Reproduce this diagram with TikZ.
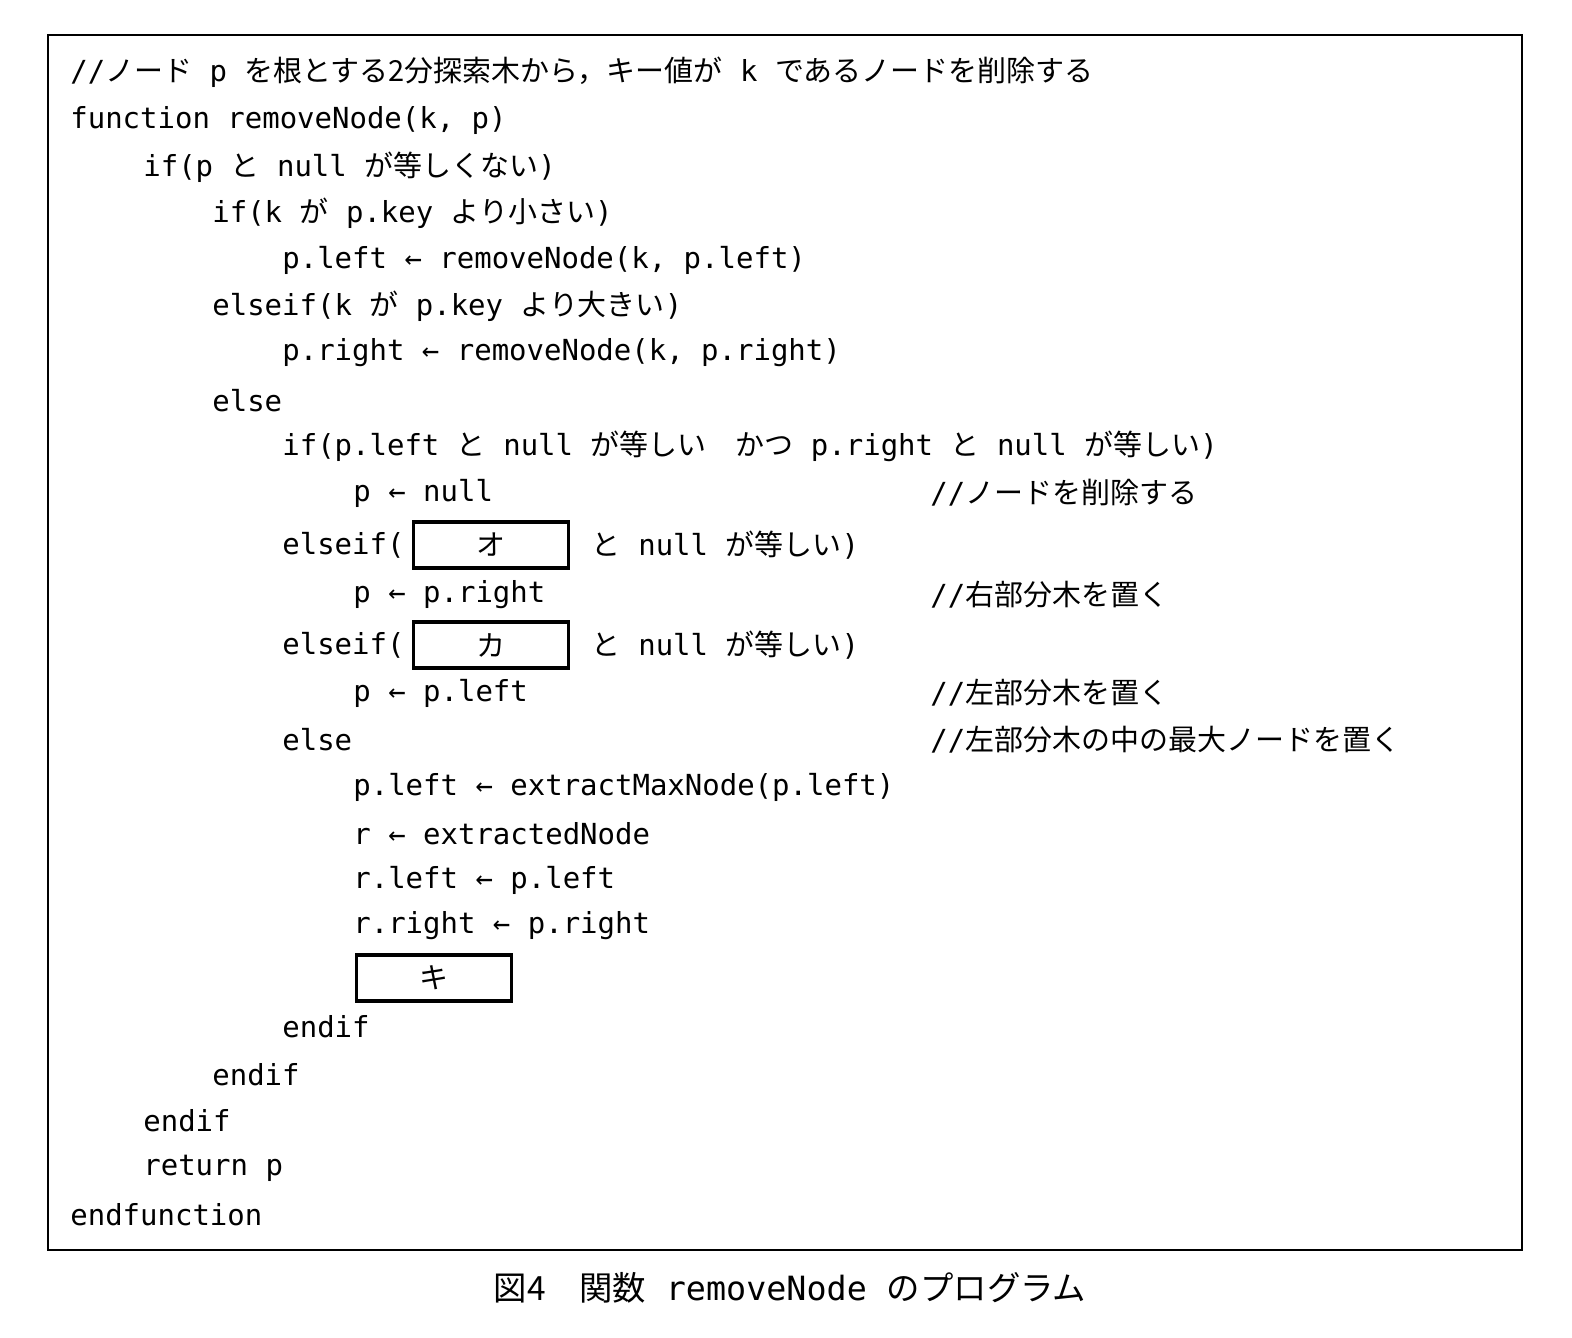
\documentclass[tikz,border=0pt]{standalone}
\usepackage{fontspec}
\setmainfont{Noto Sans CJK JP}
\newfontfamily\cd{DejaVu Sans Mono}
\usetikzlibrary{positioning}
\newcommand{\mc}[1]{{\cd #1}}
\begin{document}
\begin{tikzpicture}[x=0.02cm, y=-0.02cm,
    ln/.style={anchor=west, inner sep=0pt, font=\fontsize{16.5}{19}\selectfont},
    blank/.style={draw, line width=2.2pt, minimum width=3.1cm, minimum height=0.92cm, inner sep=0pt, font=\fontsize{16.5}{19}\selectfont}]
    \useasboundingbox (0,0) rectangle (1572,1338);
    % Frame
    \draw[line width=1.6pt] (48,35) rectangle (1522,1250);
    % Code lines
    \node[ln] (l1) at (70,72) {\mc{//}ノード\mc{ p }を根とする2分探索木から，キー値が\mc{ k }であるノードを削除する};
    \node[ln] (l2) at (70,121) {\mc{function removeNode(k, p)}};
    \node[ln] (l3) at (143,167) {\mc{if(p }と\mc{ null }が等しくない\mc{)}};
    \node[ln] (l4) at (212,213) {\mc{if(k }が\mc{ p.key }より小さい\mc{)}};
    \node[ln] (l5) at (282,260) {\mc{p.left ← removeNode(k, p.left)}};
    \node[ln] (l6) at (212,306) {\mc{elseif(k }が\mc{ p.key }より大きい\mc{)}};
    \node[ln] (l7) at (282,353) {\mc{p.right ← removeNode(k, p.right)}};
    \node[ln] (l8) at (212,401) {\mc{else}};
    \node[ln] (l9) at (282,446) {\mc{if(p.left }と\mc{ null }が等しい　かつ\mc{ p.right }と\mc{ null }が等しい\mc{)}};
    \node[ln] (l10) at (353,493) {\mc{p ← null}};
    \node[ln] (c10) at (930,493) {\mc{//}ノードを削除する};
    \node[ln] (l11) at (282,545) {\mc{elseif(}};
    \node[blank] (o) at (491,545) {オ};
    \node[ln, right=12pt of o] (l11b) {と\mc{ null }が等しい\mc{)}};
    \node[ln] (l12) at (353,595) {\mc{p ← p.right}};
    \node[ln] (c12) at (930,595) {\mc{//}右部分木を置く};
    \node[ln] (l13) at (282,645) {\mc{elseif(}};
    \node[blank] (ka) at (491,645) {カ};
    \node[ln, right=12pt of ka] (l13b) {と\mc{ null }が等しい\mc{)}};
    \node[ln] (l14) at (353,693) {\mc{p ← p.left}};
    \node[ln] (c14) at (930,693) {\mc{//}左部分木を置く};
    \node[ln] (l15) at (282,740) {\mc{else}};
    \node[ln] (c15) at (930,740) {\mc{//}左部分木の中の最大ノードを置く};
    \node[ln] (l16) at (353,787) {\mc{p.left ← extractMaxNode(p.left)}};
    \node[ln] (l17) at (353,834) {\mc{r ← extractedNode}};
    \node[ln] (l18) at (353,880) {\mc{r.left ← p.left}};
    \node[ln] (l19) at (353,926) {\mc{r.right ← p.right}};
    \node[blank] (ki) at (434,978) {キ};
    \node[ln] (l21) at (282,1027) {\mc{endif}};
    \node[ln] (l22) at (212,1075) {\mc{endif}};
    \node[ln] (l23) at (143,1121) {\mc{endif}};
    \node[ln] (l24) at (143,1168) {\mc{return p}};
    \node[ln] (l25) at (70,1215) {\mc{endfunction}};
    % Caption
    \node[font=\fontsize{19}{22}\selectfont] (cap) at (790,1288) {図4　関数\mc{ removeNode }のプログラム};
\end{tikzpicture}
\end{document}
